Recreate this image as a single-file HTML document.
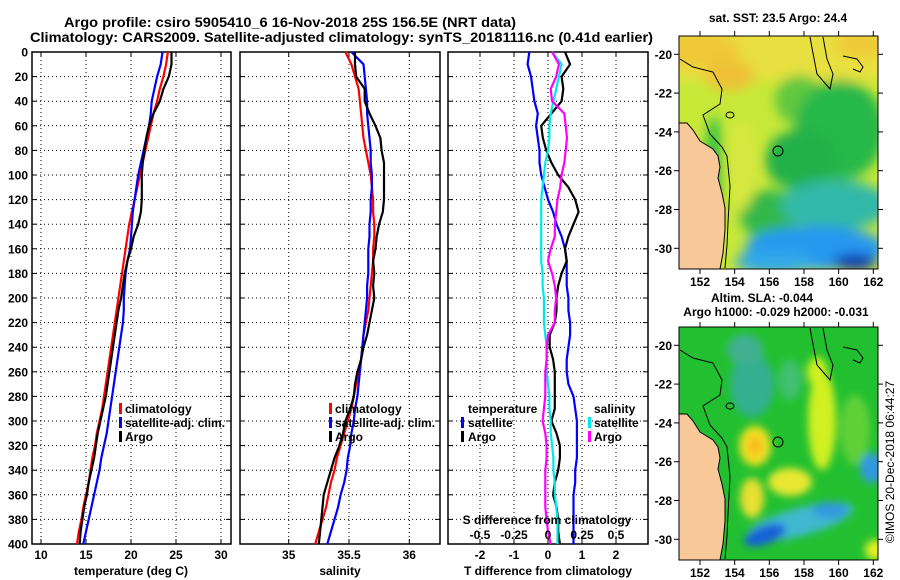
<!DOCTYPE html>
<html><head><meta charset="utf-8">
<style>
html,body{margin:0;padding:0;background:#fff;}
svg{display:block;font-family:"Liberation Sans",Arial,sans-serif;font-weight:bold;}
</style></head>
<body>
<svg id="chart" width="900" height="580" viewBox="0 0 900 580" xmlns="http://www.w3.org/2000/svg">
<defs>
  <filter id="blur4" x="-50%" y="-50%" width="200%" height="200%"><feGaussianBlur stdDeviation="4"/></filter>
  <filter id="blur6" x="-50%" y="-50%" width="200%" height="200%"><feGaussianBlur stdDeviation="6"/></filter>
  <clipPath id="clipTop"><rect x="679" y="36" width="199" height="233"/></clipPath>
  <clipPath id="clipBot"><rect x="679" y="327" width="199" height="233"/></clipPath>
  <g id="coast">
    <polyline points="680,59 693,67 713,72 722,89 720,104 703,115 710,134 722,147 727,156 730,186 728,223 727,245 725,268" fill="none" stroke="#000" stroke-width="1"/>
    <polyline points="810,37 812,48 817,74 830,89 833,74 827,59 823,37" fill="none" stroke="#000" stroke-width="1"/>
    <polyline points="843,56 857,59 863,67 860,72 853,69" fill="none" stroke="#000" stroke-width="1"/>
    <ellipse cx="730" cy="115" rx="4" ry="3" fill="none" stroke="#000" stroke-width="1"/>
    <circle cx="778" cy="151" r="5" fill="none" stroke="#000" stroke-width="1"/>
  </g>
</defs>
<g>
  <text x="64" y="27" font-size="14" textLength="452" lengthAdjust="spacingAndGlyphs">Argo profile: csiro 5905410_6 16-Nov-2018 25S 156.5E (NRT data)</text>
  <text x="30" y="42" font-size="14" textLength="623" lengthAdjust="spacingAndGlyphs">Climatology: CARS2009. Satellite-adjusted climatology: synTS_20181116.nc (0.41d earlier)</text>
</g>
<g id="panels"></g>

<!-- SST map -->
<g>
  <text x="778" y="22" font-size="12" text-anchor="middle">sat. SST: 23.5 Argo: 24.4</text>
  <g clip-path="url(#clipTop)">
    <rect x="679" y="36" width="199" height="233" fill="#c8e838"/>
    <g filter="url(#blur6)">
      <rect x="660" y="20" width="240" height="60" fill="#e8e040"/>
      <ellipse cx="700" cy="50" rx="40" ry="18" fill="#f0c838"/>
      <ellipse cx="860" cy="45" rx="25" ry="12" fill="#f0c838"/>
      <ellipse cx="730" cy="75" rx="25" ry="15" fill="#f0c038"/>
      <ellipse cx="800" cy="100" rx="25" ry="25" fill="#60c840"/>
      <ellipse cx="840" cy="130" rx="45" ry="50" fill="#28b848"/>
      <ellipse cx="800" cy="160" rx="35" ry="30" fill="#20b048"/>
      <ellipse cx="770" cy="215" rx="30" ry="25" fill="#30b848"/>
      <ellipse cx="835" cy="205" rx="55" ry="25" fill="#30b8a8"/>
      <ellipse cx="815" cy="248" rx="70" ry="22" fill="#2898f0"/>
      <ellipse cx="775" cy="262" rx="40" ry="12" fill="#30a8e8"/>
      <ellipse cx="855" cy="262" rx="22" ry="8" fill="#1030b0"/>
      <ellipse cx="742" cy="165" rx="14" ry="45" fill="#d8e840"/>
      <ellipse cx="714" cy="170" rx="8" ry="55" fill="#20c040"/>
    </g>
    <polygon points="679,123 687,123 693,130 700,141 713,149 718,156 720,167 718,178 722,193 725,208 725,230 723,253 720,269 679,269" fill="#f8c898" stroke="#000" stroke-width="1"/>
    <use href="#coast"/>
  </g>
  <rect x="679" y="36" width="199" height="233" fill="none" stroke="#000" stroke-width="1"/>
</g>

<!-- SLA map -->
<g>
  <text x="762" y="302" font-size="12" text-anchor="middle">Altim. SLA: -0.044</text>
  <text x="776" y="316" font-size="12" text-anchor="middle">Argo h1000: -0.029 h2000: -0.031</text>
  <g clip-path="url(#clipBot)">
    <rect x="679" y="327" width="199" height="233" fill="#22c030"/>
    <g filter="url(#blur4)">
      <ellipse cx="752" cy="385" rx="22" ry="32" fill="#30b090"/>
      <ellipse cx="745" cy="350" rx="18" ry="16" fill="#40b090"/>
      <ellipse cx="790" cy="380" rx="12" ry="20" fill="#40c070"/>
      <ellipse cx="755" cy="446" rx="16" ry="20" fill="#f0e020"/>
      <ellipse cx="755" cy="446" rx="7" ry="9" fill="#f8b820"/>
      <ellipse cx="752" cy="498" rx="12" ry="20" fill="#e8e030"/>
      <ellipse cx="790" cy="482" rx="22" ry="14" fill="#e8e830"/>
      <ellipse cx="822" cy="420" rx="14" ry="50" fill="#d0f020"/>
      <ellipse cx="817" cy="372" rx="10" ry="15" fill="#d0f020"/>
      <ellipse cx="855" cy="430" rx="15" ry="35" fill="#60d038"/>
      <ellipse cx="800" cy="522" rx="55" ry="14" fill="#40b8d0" transform="rotate(-15 800 522)"/>
      <ellipse cx="765" cy="535" rx="22" ry="9" fill="#1860d8" transform="rotate(-20 765 535)"/>
      <ellipse cx="830" cy="510" rx="18" ry="8" fill="#3098e0"/>
      <ellipse cx="872" cy="468" rx="12" ry="15" fill="#3098e0"/>
      <ellipse cx="875" cy="550" rx="10" ry="10" fill="#e8f020"/>
    </g>
    <g transform="translate(0,291)">
      <polygon points="679,123 687,123 693,130 700,141 713,149 718,156 720,167 718,178 722,193 725,208 725,230 723,253 720,269 679,269" fill="#f8c898" stroke="#000" stroke-width="1"/>
      <use href="#coast"/>
    </g>
  </g>
  <rect x="679" y="327" width="199" height="233" fill="none" stroke="#000" stroke-width="1"/>
</g>
<g id="mapaxes"></g>
<text x="0" y="0" font-size="12" font-weight="normal" transform="translate(894,462) rotate(-90)" text-anchor="middle">©IMOS 20-Dec-2018 06:44:27</text>
</svg>
<script>
const depths = [0,10,20,30,40,50,60,70,80,90,100,110,120,130,140,150,160,170,180,190,200,210,220,230,240,250,260,270,280,290,300,310,320,330,340,350,360,370,380,390,400];
const depthTicks = [0,20,40,60,80,100,120,140,160,180,200,220,240,260,280,300,320,340,360,380,400];
const tempClim = [24.1,23.9,23.6,23.2,22.9,22.5,22.2,21.9,21.6,21.3,21.0,20.7,20.4,20.1,19.8,19.6,19.4,19.2,19.0,18.8,18.6,18.4,18.2,18.0,17.8,17.6,17.4,17.2,17.0,16.8,16.5,16.2,16.0,15.7,15.5,15.3,15.0,14.7,14.5,14.2,14.0];
const tempSat = [23.5,23.3,22.9,22.6,22.3,22.2,22.0,21.7,21.4,21.1,20.8,20.6,20.4,20.2,20.1,20.0,19.9,19.6,19.4,19.3,19.2,19.2,19.1,18.9,18.7,18.5,18.3,18.1,17.9,17.7,17.5,17.3,17.0,16.7,16.5,16.2,15.9,15.6,15.3,15.0,14.7];
const tempArgo = [24.5,24.5,24.2,23.6,23.2,22.5,22.0,21.7,21.5,21.3,21.2,21.2,21.2,21.1,20.8,20.3,20.0,19.6,19.3,19.1,18.9,18.6,18.4,18.2,18.0,17.8,17.6,17.4,17.2,16.9,16.6,16.3,16.1,15.9,15.6,15.3,15.1,14.8,14.6,14.4,14.3];
const salClim = [35.47,35.52,35.55,35.58,35.59,35.60,35.61,35.62,35.64,35.66,35.68,35.69,35.70,35.70,35.71,35.71,35.70,35.70,35.69,35.68,35.67,35.66,35.64,35.62,35.61,35.60,35.58,35.56,35.54,35.52,35.49,35.46,35.43,35.40,35.38,35.35,35.33,35.31,35.28,35.25,35.22];
const salSat = [35.52,35.62,35.63,35.64,35.65,35.65,35.66,35.67,35.68,35.68,35.69,35.69,35.68,35.68,35.67,35.67,35.66,35.66,35.66,35.65,35.65,35.64,35.63,35.62,35.61,35.60,35.59,35.58,35.57,35.55,35.54,35.52,35.51,35.49,35.48,35.46,35.43,35.41,35.38,35.35,35.32];
const salArgo = [35.55,35.55,35.56,35.63,35.63,35.67,35.72,35.76,35.77,35.79,35.79,35.79,35.79,35.78,35.75,35.73,35.72,35.70,35.71,35.70,35.71,35.69,35.67,35.65,35.62,35.60,35.57,35.55,35.54,35.51,35.47,35.45,35.42,35.38,35.35,35.32,35.29,35.28,35.27,35.26,35.25];
const tDiffSat = [-0.55,-0.6,-0.5,-0.45,-0.4,-0.3,-0.35,-0.3,-0.25,-0.25,-0.2,-0.1,0.0,0.15,0.25,0.4,0.5,0.55,0.55,0.55,0.6,0.6,0.65,0.65,0.6,0.55,0.55,0.6,0.75,0.8,0.85,0.85,0.85,0.85,0.8,0.8,0.75,0.75,0.75,0.75,0.75];
const tDiffArgo = [0.5,0.65,0.4,0.45,0.4,0.1,-0.2,-0.15,-0.05,0.1,0.3,0.6,0.8,0.9,0.75,0.6,0.5,0.55,0.4,0.3,0.25,0.25,0.2,0.05,0.05,0.15,0.2,0.2,0.2,0.2,0.1,0.25,0.35,0.35,0.3,0.2,0.15,0.25,0.3,0.3,0.35];
const sDiffSat = [0.03,0.1,0.08,0.06,0.04,0.02,0.01,0.01,0.0,-0.02,-0.03,-0.04,-0.05,-0.05,-0.05,-0.05,-0.05,-0.05,-0.04,-0.04,-0.03,-0.03,-0.03,-0.02,-0.01,-0.01,-0.01,0.0,0.01,0.01,0.02,0.02,0.03,0.04,0.04,0.05,0.05,0.06,0.07,0.07,0.07];
const sDiffArgo = [0.03,0.08,0.06,0.02,0.03,0.12,0.13,0.14,0.13,0.12,0.1,0.09,0.07,0.06,0.05,0.05,0.02,0.0,0.03,0.05,0.06,0.05,0.05,0.0,-0.01,-0.01,-0.02,-0.02,-0.02,-0.03,-0.04,-0.02,-0.01,-0.01,-0.02,-0.02,-0.02,-0.02,-0.01,0.0,0.02];
const tempTicks = [10,15,20,25,30];
const salTicks = [35,35.5,36];
const salTickLabels = ["35","35.5","36"];
const tDiffTicks = [-2,-1,0,1,2];
const sDiffTicks = [-0.5,-0.25,0,0.25,0.5];
const sDiffTickLabels = ["-0.5","-0.25","0","0.25","0.5"];
const lonTicks = [152,154,156,158,160,162];
const latTicks = [-20,-22,-24,-26,-28,-30];

const NS = "http://www.w3.org/2000/svg";
const root = document.getElementById("panels");
function mk(tag, attrs, parent){const e=document.createElementNS(NS,tag);for(const k in attrs)e.setAttribute(k,attrs[k]);(parent||root).appendChild(e);return e;}
const PT = 52, PB = 544;
const yD = d => PT + d*(PB-PT)/400;

const panels = [
  {x0:32,x1:231,name:"temperature",sx:v=>41+(v-10)*9},
  {x0:240,x1:440,name:"salinity",sx:v=>288.7+(v-35)*120.6},
  {x0:448,x1:648,name:"difference",sx:v=>548+v*34}
];
const ssx = v => 548 + v*136;

panels.forEach((p,i)=>{
  const g = mk("g",{});
  
  
  depthTicks.forEach(d=>{
    const y=yD(d);
    if(d>0&&d<400){
      const l=mk("line",{x1:p.x0,x2:p.x1,y1:y,y2:y,stroke:"#000","stroke-width":1,"stroke-dasharray":"1,3"},g);
      
      
    }
    mk("line",{x1:p.x0,x2:p.x0+5,y1:y,y2:y,stroke:"#000"},g);
    mk("line",{x1:p.x1,x2:p.x1-5,y1:y,y2:y,stroke:"#000"},g);
    if(i===0){
      const t=mk("text",{x:28,y:y+4.5,"font-size":12,"text-anchor":"end"},g);
      t.textContent=d;
      
      
    }
  });
  const xt = i===0?tempTicks:(i===1?salTicks:tDiffTicks);
  xt.forEach((v,j)=>{
    const x=p.sx(v);
    const l=mk("line",{x1:x,x2:x,y1:PT,y2:PB,stroke:"#000","stroke-width":1,"stroke-dasharray":"1,3"},g);
    
    
    mk("line",{x1:x,x2:x,y1:PT,y2:PT+5,stroke:"#000"},g);
    mk("line",{x1:x,x2:x,y1:PB,y2:PB-5,stroke:"#000"},g);
    const t=mk("text",{x:x,y:559,"font-size":12,"text-anchor":"middle"},g);
    t.textContent = i===1?salTickLabels[j]:String(v);
    
    
  });
  const fr=mk("rect",{x:p.x0,y:PT,width:p.x1-p.x0,height:PB-PT,fill:"none",stroke:"#000","stroke-width":1.5},g);
  
  
});

function series(vals, sx, color, name){
  const pts = vals.map((v,k)=>sx(v).toFixed(1)+","+yD(depths[k]).toFixed(1)).join(" ");
  const pl = mk("polyline",{points:pts,fill:"none",stroke:color,"stroke-width":2.2,"stroke-linejoin":"round"});
  
  
}
series(tempClim, panels[0].sx, "#ff0000", "temperature-climatology-line");
series(tempSat, panels[0].sx, "#0000ff", "temperature-satellite-line");
series(tempArgo, panels[0].sx, "#000000", "temperature-argo-line");
series(salClim, panels[1].sx, "#ff0000", "salinity-climatology-line");
series(salSat, panels[1].sx, "#0000ff", "salinity-satellite-line");
series(salArgo, panels[1].sx, "#000000", "salinity-argo-line");
series(tDiffSat, panels[2].sx, "#0000ff", "t-diff-satellite-line");
series(tDiffArgo, panels[2].sx, "#000000", "t-diff-argo-line");
series(sDiffSat, ssx, "#00e8e8", "s-diff-satellite-line");
series(sDiffArgo, ssx, "#ff00ff", "s-diff-argo-line");

function legItem(mx, tx, y, color, label, name){
  const g=mk("g",{});
  
  
  if(color) mk("rect",{x:mx,y:y-10,width:3,height:11,fill:color},g);
  const t=mk("text",{x:tx,y:y,"font-size":12},g);
  t.textContent=label;
}
[[119,125],[329,335]].forEach((c,i)=>{
  const pre = i===0?"temperature":"salinity";
  legItem(c[0],c[1],413,"#ff0000","climatology",pre+"-legend-climatology");
  legItem(c[0],c[1],427,"#0000ff","satellite-adj. clim.",pre+"-legend-satellite");
  legItem(c[0],c[1],441,"#000000","Argo",pre+"-legend-argo");
});
legItem(0,468,413,null,"temperature","diff-legend-temperature-title");
legItem(461,468,427,"#0000ff","satellite","diff-legend-t-satellite");
legItem(461,468,441,"#000000","Argo","diff-legend-t-argo");
legItem(0,594,413,null,"salinity","diff-legend-salinity-title");
legItem(588,594,427,"#00e8e8","satellite","diff-legend-s-satellite");
legItem(588,594,441,"#ff00ff","Argo","diff-legend-s-argo");

const st=mk("text",{x:547,y:524,"font-size":12,"text-anchor":"middle"});
st.textContent="S difference from climatology";


sDiffTicks.forEach((v,j)=>{
  const t=mk("text",{x:ssx(v),y:539,"font-size":12,"text-anchor":"middle"});
  t.textContent=sDiffTickLabels[j];
  
  
});
[["temperature (deg C)",131,"temperature-axis-title"],["salinity",340,"salinity-axis-title"],["T difference from climatology",548,"t-diff-axis-title"]].forEach(a=>{
  const t=mk("text",{x:a[1],y:575,"font-size":12,"text-anchor":"middle"});
  t.textContent=a[0];
  
  
});

const mroot=document.getElementById("mapaxes");
const lonX = v => 700 + (v-152)*17.33;
[[36,269,"sst"],[327,560,"sla"]].forEach(m=>{
  const latY = v => m[0] + 18.3 + (-20 - v)*19.4;
  lonTicks.forEach(v=>{
    const x=lonX(v);
    mk("line",{x1:x,x2:x,y1:m[0],y2:m[0]-5,stroke:"#000"},mroot);
    mk("line",{x1:x,x2:x,y1:m[1],y2:m[1]+5,stroke:"#000"},mroot);
    const t=mk("text",{x:x,y:m[1]+17,"font-size":12,"text-anchor":"middle"},mroot);
    t.textContent=v;
    
    
  });
  latTicks.forEach(v=>{
    const y=latY(v);
    mk("line",{x1:679,x2:674,y1:y,y2:y,stroke:"#000"},mroot);
    mk("line",{x1:878,x2:883,y1:y,y2:y,stroke:"#000"},mroot);
    const t=mk("text",{x:672,y:y+4.5,"font-size":12,"text-anchor":"end"},mroot);
    t.textContent=v;
    
    
  });
});
</script>
</body></html>
